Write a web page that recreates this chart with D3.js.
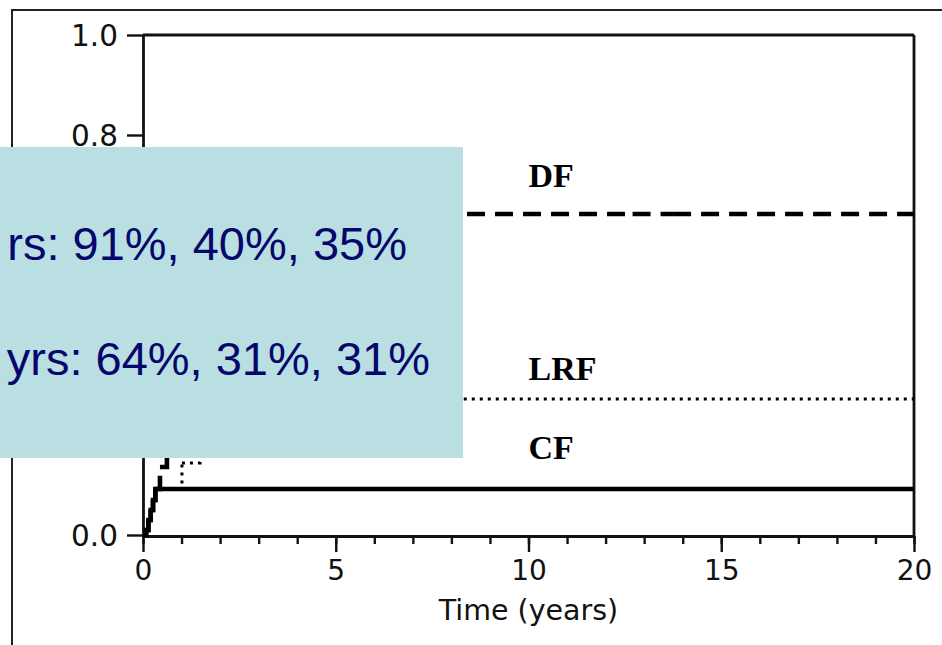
<!DOCTYPE html>
<html>
<head>
<meta charset="utf-8">
<script src="https://cdn.jsdelivr.net/npm/d3@7"></script>
<style>
  html, body { margin: 0; padding: 0; background: #ffffff; }
  svg { display: block; }
</style>
</head>
<body>
<svg id="chart" width="942" height="645"></svg>
<script>
// Cumulative incidence curves: [time in years, cumulative proportion]
const dfSeries = [
  [0, 0], [0.08, 0.01], [0.14, 0.03], [0.2, 0.05], [0.26, 0.07], [0.32, 0.092],
  [0.44, 0.136], [0.62, 0.2], [0.8, 0.3], [1.0, 0.4], [1.3, 0.48], [1.7, 0.54],
  [2.2, 0.58], [3.0, 0.61], [4.0, 0.63], [5.5, 0.642], [12.7, 0.642],
  [13.75, 0.642], [20, 0.642]
];
const lrfSeries = [
  [0, 0], [0.08, 0.01], [0.14, 0.03], [0.2, 0.05], [0.26, 0.07], [0.32, 0.092],
  [1.01, 0.144], [1.48, 0.18], [2.2, 0.22], [3.5, 0.25], [5.0, 0.272], [20, 0.272]
];
const cfSeries = [
  [0, 0], [0.08, 0.01], [0.14, 0.03], [0.2, 0.05], [0.26, 0.07], [0.32, 0.092],
  [20, 0.092]
];

// Curve labels: name, time where the label starts, height of its baseline
const curveLabels = ["DF", "LRF", "CF"];
const labelTimes = [10, 10, 10];
const labelValues = [0.696, 0.31, 0.152];

// Axis ticks (the middle y labels sit under the callout panel, so only these are lettered)
const xMajorTicks = [0, 5, 10, 15, 20];
const xMinorTicks = d3.range(0, 21, 1);
const yTicks = [0, 0.2, 0.4, 0.6, 0.8, 1.0];
const yLabelledTicks = [0, 0.8, 1.0];
const xTitle = "Time (years)";

// Callout text
const calloutLines = ["rs: 91%, 40%, 35%", "yrs: 64%, 31%, 31%"];

const svg = d3.select("#chart");

const x = d3.scaleLinear().domain([0, 20]).range([143, 914]);
const y = d3.scaleLinear().domain([0, 1]).range([535, 35]);

const ink = "#111";

// Outer figure frame
svg.append("rect")
  .attr("x", 12).attr("y", 10).attr("width", 1000).attr("height", 700)
  .attr("fill", "none").attr("stroke", "#222").attr("stroke-width", 2);

// Top and right borders of the plot area
svg.append("line")
  .attr("x1", x(0)).attr("x2", x(20)).attr("y1", y(1)).attr("y2", y(1))
  .attr("stroke", ink).attr("stroke-width", 2.8);
svg.append("line")
  .attr("x1", x(20)).attr("x2", x(20)).attr("y1", y(1)).attr("y2", y(0) + 1)
  .attr("stroke", ink).attr("stroke-width", 2.8);

// X axis: minor ticks every year, labelled major ticks every 5 years
const xAxisY = y(0) + 1;
const xMinor = svg.append("g").attr("transform", `translate(0,${xAxisY})`)
  .call(d3.axisBottom(x).tickValues(xMinorTicks).tickSize(8).tickSizeOuter(0).tickFormat(""));
const xMajor = svg.append("g").attr("transform", `translate(0,${xAxisY})`)
  .call(d3.axisBottom(x).tickValues(xMajorTicks).tickSize(16).tickSizeOuter(0).tickPadding(6));

// Y axis
const fmtY = d3.format(".1f");
const yAxis = svg.append("g").attr("transform", `translate(${x(0)},0)`)
  .call(d3.axisLeft(y).tickValues(yTicks).tickSize(16).tickSizeOuter(0)
    .tickPadding(9).tickFormat(d => yLabelledTicks.includes(d) ? fmtY(d) : ""));

[xMinor, xMajor, yAxis].forEach(g => {
  g.select(".domain").attr("stroke", ink).attr("stroke-width", 2.8);
  g.selectAll(".tick line").attr("stroke", ink).attr("stroke-width", 2.4);
  g.selectAll(".tick text")
    .attr("fill", "#111")
    .style("font-family", "'DejaVu Sans', sans-serif")
    .style("font-size", "28px");
});
yAxis.selectAll(".tick text").style("font-size", "29.5px").attr("dy", "0.36em");
xMajor.selectAll(".tick text").attr("dy", "0.78em");

// Axis title
svg.append("text")
  .attr("x", (x(0) + x(20)) / 2).attr("y", 620)
  .attr("text-anchor", "middle")
  .attr("fill", "#111")
  .style("font-family", "'DejaVu Sans', sans-serif")
  .style("font-size", "28.5px")
  .text(xTitle);

// Step curves; each step is its own segment so the dash pattern restarts at every event
const step = d3.line().x(d => x(d[0])).y(d => y(d[1])).curve(d3.curveStepAfter);
const curves = svg.append("g");

function drawSegments(series, attrs) {
  for (let i = 0; i < series.length - 1; i++) {
    const p = curves.append("path")
      .attr("d", step([series[i], series[i + 1]]))
      .attr("fill", "none");
    Object.entries(attrs).forEach(([k, v]) => p.attr(k, v));
  }
}

drawSegments(lrfSeries, { stroke: "#000", "stroke-width": 3, "stroke-dasharray": "3,5" });
drawSegments(dfSeries, { stroke: "#000", "stroke-width": 4.6, "stroke-dasharray": "18,10" });
curves.append("path")
  .attr("d", step(cfSeries))
  .attr("fill", "none")
  .attr("stroke", "#000")
  .attr("stroke-width", 4.6);

// Curve labels
svg.append("g").selectAll("text")
  .data(curveLabels)
  .join("text")
  .attr("x", (d, i) => x(labelTimes[i]))
  .attr("y", (d, i) => y(labelValues[i]))
  .attr("fill", "#000")
  .style("font-family", "'Liberation Serif', 'Times New Roman', serif")
  .style("font-weight", "bold")
  .style("font-size", "34px")
  .text(d => d);

// Callout panel laid over the left part of the plot
svg.append("rect")
  .attr("x", 0).attr("y", 147).attr("width", 463).attr("height", 311)
  .attr("fill", "#b9dfe2");

const calloutEnds = [407, 430];
const calloutBaselines = [260, 375];
svg.append("g").selectAll("text")
  .data(calloutLines)
  .join("text")
  .attr("x", (d, i) => calloutEnds[i])
  .attr("y", (d, i) => calloutBaselines[i])
  .attr("text-anchor", "end")
  .attr("fill", "#07076b")
  .style("font-family", "'Liberation Sans', Arial, sans-serif")
  .style("font-size", "47px")
  .text(d => d);
</script>
</body>
</html>
